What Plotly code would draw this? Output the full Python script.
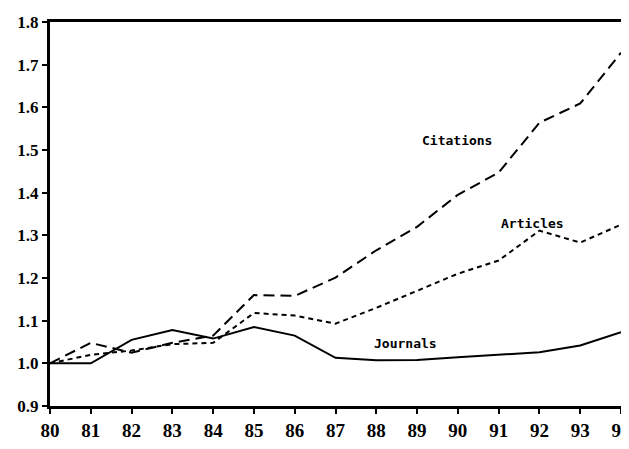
import plotly.graph_objects as go

years = list(range(80, 95))
journals = [1.00, 1.00, 1.055, 1.078, 1.058, 1.085, 1.065, 1.013, 1.007, 1.008, 1.014, 1.020, 1.026, 1.042, 1.073]
articles = [1.00, 1.020, 1.030, 1.045, 1.048, 1.118, 1.112, 1.093, 1.130, 1.170, 1.210, 1.241, 1.311, 1.283, 1.325]
citations = [1.00, 1.048, 1.025, 1.048, 1.065, 1.160, 1.158, 1.201, 1.265, 1.320, 1.395, 1.447, 1.564, 1.609, 1.728]
y_ticks = [0.9, 1.0, 1.1, 1.2, 1.3, 1.4, 1.5, 1.6, 1.7, 1.8]

fig = go.Figure()
fig.add_trace(go.Scatter(x=years, y=journals, mode="lines", line=dict(color="black", width=2)))
fig.add_trace(go.Scatter(x=years, y=articles, mode="lines", line=dict(color="black", width=2, dash="5px,4px")))
fig.add_trace(go.Scatter(x=years, y=citations, mode="lines", line=dict(color="black", width=2, dash="11px,6px")))

label_font = dict(family="DejaVu Sans Mono", size=13, color="black", weight="bold")
for txt, x, y in [("Citations", 89.99, 1.522), ("Articles", 91.84, 1.328), ("Journals", 88.71, 1.047)]:
    fig.add_annotation(x=x, y=y, xref="x", yref="y", text=txt, showarrow=False, font=label_font)

y_tick_font = dict(family="Liberation Serif", size=17, color="black", weight="bold")
x_tick_font = dict(family="Liberation Serif", size=19, color="black", weight="bold")
fig.update_layout(
    width=621, height=441,
    margin=dict(l=42, r=8, t=14, b=43),
    paper_bgcolor="white", plot_bgcolor="white",
    showlegend=False,
    xaxis=dict(range=[80, 94], tickvals=years, ticktext=[str(y) for y in years],
               showgrid=False, zeroline=False, showline=True, linecolor="black", linewidth=3,
               mirror=True, ticks="outside", ticklen=5, tickwidth=2, tickcolor="black",
               tickfont=x_tick_font, automargin=False, ticklabeloverflow="allow"),
    yaxis=dict(range=[0.9, 1.8], tickvals=y_ticks, ticktext=[f"{v:.1f}" for v in y_ticks],
               showgrid=False, zeroline=False, showline=True, linecolor="black", linewidth=3,
               mirror=True, ticks="outside", ticklen=5, tickwidth=2, tickcolor="black",
               tickfont=y_tick_font, automargin=False, ticklabeloverflow="allow"),
)
fig.write_html("out.html")
